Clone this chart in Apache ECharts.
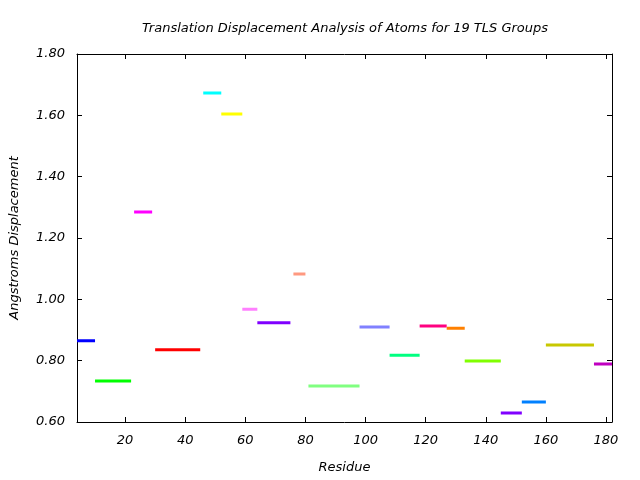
<!DOCTYPE html>
<html>
<head>
<meta charset="utf-8">
<script src="https://cdn.jsdelivr.net/npm/echarts@6/dist/echarts.min.js"></script>
<style>html,body{margin:0;padding:0;background:#fff}#c{width:640px;height:480px}</style>
</head>
<body>
<div id="c"></div>
<script>
// TLS group residue ranges and displacement values
var groupStarts = [4, 10, 23, 30, 46, 52, 59, 64, 76, 81, 98, 108, 118, 127, 133, 145, 152, 160, 176];
var groupEnds   = [10, 22, 29, 45, 52, 59, 64, 75, 80, 98, 108, 118, 127, 133, 145, 152, 160, 176, 182];
var groupValues = [0.865, 0.734, 1.285, 0.836, 1.673, 1.604, 0.968, 0.924, 1.083, 0.717, 0.910, 0.818, 0.913, 0.906, 0.799, 0.629, 0.665, 0.851, 0.789];
var groupColors = ['#0000ff', '#00ff00', '#ff00ff', '#ff0000', '#00ffff', '#ffff00', '#ff80ff', '#8000ff', '#ff9980', '#80ff80', '#8080ff', '#00ff80', '#ff0080', '#ff8000', '#80ff00', '#8000ff', '#0080ff', '#c8c800', '#c000c0'];
var xTicks = [20, 40, 60, 80, 100, 120, 140, 160, 180];
var xMin = 4, xMax = 182;
var yMin = 0.6, yMax = 1.8, yStep = 0.2;

var FONT = 'DejaVu Sans';
var FS = 13;
var series = groupValues.map(function (v, i) {
  return {
    type: 'line',
    xAxisIndex: 0, yAxisIndex: 0,
    data: [[groupStarts[i], v], [groupEnds[i], v]],
    symbol: 'none',
    silent: true,
    animation: false,
    lineStyle: { color: groupColors[i], width: 3, cap: 'butt' }
  };
});

var chart = echarts.init(document.getElementById('c'), null, { renderer: 'canvas' });
chart.setOption({
  animation: false,
  backgroundColor: '#ffffff',
  title: {
    text: 'Translation Displacement Analysis of Atoms for 19 TLS Groups',
    left: 340, top: 17, textAlign: 'center',
    textStyle: { fontFamily: FONT, fontStyle: 'italic', fontWeight: 'normal', fontSize: FS, color: '#000' }
  },
  grid: { left: 76, right: 28, top: 54, bottom: 58, containLabel: false },
  xAxis: [{
    type: 'value', min: xMin, max: xMax, position: 'bottom',
    name: 'Residue', nameLocation: 'middle', nameGap: 39,
    nameTextStyle: { fontFamily: FONT, fontStyle: 'italic', fontSize: FS, color: '#000' },
    axisLine: { show: true, onZero: false, lineStyle: { color: '#000', width: 1 } },
    axisTick: { show: true, inside: true, length: 5, lineStyle: { color: '#000' }, customValues: xTicks },
    axisLabel: { fontFamily: FONT, fontStyle: 'italic', fontSize: FS, color: '#000', margin: 12, customValues: xTicks },
    splitLine: { show: false }
  }, {
    type: 'value', min: xMin, max: xMax, position: 'top',
    axisLine: { show: true, onZero: false, lineStyle: { color: '#000', width: 1 } },
    axisTick: { show: true, inside: true, length: 5, lineStyle: { color: '#000' }, customValues: xTicks },
    axisLabel: { show: false },
    splitLine: { show: false }
  }],
  yAxis: [{
    type: 'value', min: yMin, max: yMax, interval: yStep, position: 'left',
    name: 'Angstroms Displacement', nameLocation: 'middle', nameGap: 56, nameRotate: 90,
    nameTextStyle: { fontFamily: FONT, fontStyle: 'italic', fontSize: FS, color: '#000' },
    axisLine: { show: true, onZero: false, lineStyle: { color: '#000', width: 1 } },
    axisTick: { show: true, inside: true, length: 5, lineStyle: { color: '#000' } },
    axisLabel: { fontFamily: FONT, fontStyle: 'italic', fontSize: FS, color: '#000', margin: 12,
      formatter: function (v) { return v.toFixed(2); } },
    splitLine: { show: false }
  }, {
    type: 'value', min: yMin, max: yMax, interval: yStep, position: 'right',
    axisLine: { show: true, onZero: false, lineStyle: { color: '#000', width: 1 } },
    axisTick: { show: true, inside: true, length: 5, lineStyle: { color: '#000' } },
    axisLabel: { show: false },
    splitLine: { show: false }
  }],
  series: series
});
</script>
</body>
</html>
